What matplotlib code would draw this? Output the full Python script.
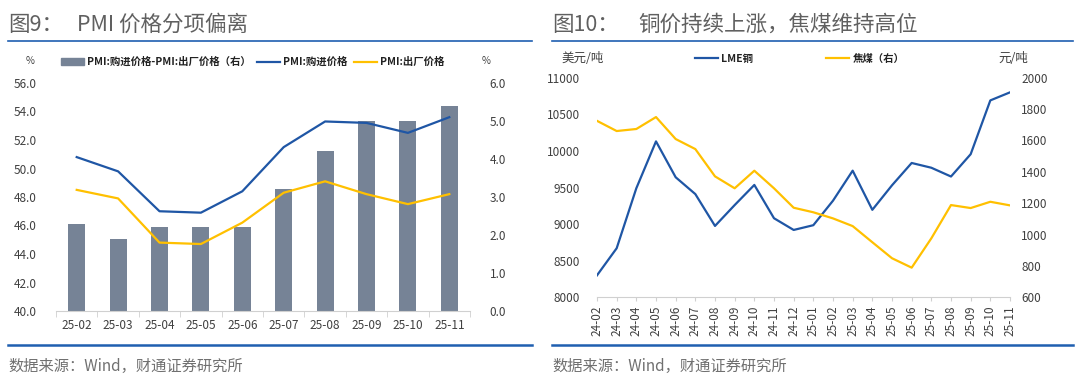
import matplotlib
matplotlib.use("Agg")
import matplotlib.pyplot as plt
from matplotlib.lines import Line2D
from matplotlib.patches import Patch

plt.rcParams['font.family'] = ['Noto Sans CJK SC', 'DejaVu Sans']

# ---- left chart data: PMI price sub-indices
pmi_months = ['25-02', '25-03', '25-04', '25-05', '25-06', '25-07', '25-08', '25-09', '25-10', '25-11']
pmi_input = [50.8, 49.8, 47.0, 46.9, 48.4, 51.5, 53.3, 53.2, 52.5, 53.6]
pmi_output = [48.5, 47.9, 44.8, 44.7, 46.2, 48.3, 49.1, 48.2, 47.5, 48.2]
pmi_gap = [2.3, 1.9, 2.2, 2.2, 2.2, 3.2, 4.2, 5.0, 5.0, 5.4]

# ---- right chart data: LME copper vs coking coal
cu_months = ['24-02', '24-03', '24-04', '24-05', '24-06', '24-07', '24-08', '24-09', '24-10', '24-11', '24-12',
             '25-01', '25-02', '25-03', '25-04', '25-05', '25-06', '25-07', '25-08', '25-09', '25-10', '25-11']
lme_copper = [8300, 8670, 9490, 10130, 9640, 9410, 8975, 9260, 9535, 9080, 8920,
              8985, 9320, 9730, 9195, 9530, 9835, 9770, 9650, 9955, 10690, 10800]
coking_coal = [1725, 1660, 1673, 1749, 1609, 1545, 1371, 1295, 1407, 1295, 1171,
               1142, 1103, 1054, 951, 849, 789, 976, 1188, 1169, 1209, 1186]

BLUE = '#1f56a5'
YELLOW = '#ffc000'
BAR = '#768396'
TXT = '#404040'
FRAME = '#1f5fb0'

fig = plt.figure(figsize=(10.8, 3.75), dpi=100)
W, H = 1080.0, 375.0

def fx(px):
    return px / W

def fy(py):
    return 1 - py / H

# titles, frame lines, source notes
fig.text(fx(8), fy(25), '图9：', fontsize=15.5, color='#606060', va='center', ha='left')
fig.text(fx(77), fy(25), 'PMI 价格分项偏离', fontsize=15.5, color='#606060', va='center', ha='left')
fig.text(fx(552), fy(25), '图10：', fontsize=15.5, color='#606060', va='center', ha='left')
fig.text(fx(638), fy(25), '铜价持续上涨，焦煤维持高位', fontsize=15.5, color='#606060', va='center', ha='left')
for x0, x1 in [(8, 532), (552, 1073)]:
    fig.add_artist(Line2D([fx(x0), fx(x1)], [fy(41), fy(41)], color=FRAME, lw=1.2))
    fig.add_artist(Line2D([fx(x0), fx(x1)], [fy(345), fy(345)], color=FRAME, lw=1.8))
    fig.text(fx(x0), fy(366), '数据来源：Wind，财通证券研究所', fontsize=11, color='#707070', va='center', ha='left')

# ---------------- left chart
axb = fig.add_axes([fx(56), fy(311), fx(470 - 56), (311 - 83) / H])
x = list(range(len(pmi_months)))
axb.bar(x, pmi_gap, width=0.41, color=BAR, zorder=1)
axb.set_ylim(0, 6)
axb.set_xlim(-0.5, len(pmi_months) - 0.5)

axl = axb.twinx()
axl.plot(x, pmi_input, color=BLUE, lw=1.6)
axl.plot(x, pmi_output, color=YELLOW, lw=1.6)
axl.set_ylim(40, 56)
axl.yaxis.tick_left()
axl.yaxis.set_label_position('left')
axl.set_yticks(range(40, 57, 2))
axl.set_yticklabels(['%.1f' % v for v in range(40, 57, 2)])

axb.yaxis.tick_right()
axb.set_yticks([0, 1, 2, 3, 4, 5, 6])
axb.set_yticklabels(['%.1f' % v for v in [0, 1, 2, 3, 4, 5, 6]])

axb.set_xticks(x)
axb.set_xticklabels(pmi_months)
axb.set_xticks([i - 0.5 for i in range(len(pmi_months) + 1)], minor=True)
axb.tick_params(axis='x', which='major', length=0, pad=6, labelsize=8.5, colors=TXT)
axb.tick_params(axis='x', which='minor', length=4, color='#d0d0d0')
axb.tick_params(axis='y', length=0, pad=14, labelsize=8.5, colors=TXT)
axl.tick_params(axis='y', length=0, pad=14, labelsize=8.5, colors=TXT)
for a in (axb, axl):
    for s in a.spines.values():
        s.set_visible(False)
axb.spines['bottom'].set_visible(True)
axb.spines['bottom'].set_color('#d0d0d0')

fig.text(fx(30), fy(61), '%', fontsize=7, color=TXT, ha='center', va='center')
fig.text(fx(486), fy(61), '%', fontsize=7, color=TXT, ha='center', va='center')

handles = [Patch(color=BAR), Line2D([], [], color=BLUE, lw=1.6), Line2D([], [], color=YELLOW, lw=1.6)]
labels = ['PMI:购进价格-PMI:出厂价格（右）', 'PMI:购进价格', 'PMI:出厂价格']
fig.legend(handles, labels, loc='center left', bbox_to_anchor=(fx(52), fy(62)), ncol=3, frameon=False,
           prop={'size': 7.5, 'weight': 'bold'}, handlelength=2.2, handletextpad=0.3, columnspacing=0.6,
           handleheight=0.6, labelcolor='#222222')

# ---------------- right chart
axc = fig.add_axes([fx(597), fy(297.3), fx(1010 - 597), (297.3 - 77.7) / H])
xc = list(range(len(cu_months)))
axc.plot(xc, lme_copper, color=BLUE, lw=1.6)
axc.set_ylim(8000, 11000)
axc.set_xlim(0, len(cu_months) - 1)
axc.set_xticks(xc)
axc.set_xticklabels(cu_months, rotation=90)

axk = axc.twinx()
axk.plot(xc, coking_coal, color=YELLOW, lw=1.6)
axk.set_ylim(600, 2000)
axk.set_yticks(range(600, 2001, 200))
axc.yaxis.tick_left()
axc.set_yticks(range(8000, 11001, 500))

axc.tick_params(axis='x', length=3, color='#d0d0d0', pad=3, labelsize=8.5, labelcolor=TXT)
axc.tick_params(axis='y', length=0, pad=12, labelsize=8.5, colors=TXT)
axk.tick_params(axis='y', length=0, pad=8, labelsize=8.5, colors=TXT)
for a in (axc, axk):
    for s in a.spines.values():
        s.set_visible(False)
axc.spines['bottom'].set_visible(True)
axc.spines['bottom'].set_color('#d0d0d0')

fig.text(fx(583), fy(59), '美元/吨', fontsize=9, color=TXT, ha='center', va='center')
fig.text(fx(1013), fy(59), '元/吨', fontsize=9, color=TXT, ha='center', va='center')

handles2 = [Line2D([], [], color=BLUE, lw=1.6), Line2D([], [], color=YELLOW, lw=1.6)]
fig.legend(handles2, ['LME铜', '焦煤（右）'], loc='center left', bbox_to_anchor=(fx(686), fy(59)), ncol=2,
           frameon=False, prop={'size': 7.5, 'weight': 'bold'}, handlelength=2.2, handletextpad=0.3,
           columnspacing=7.0, labelcolor='#222222')

fig.savefig('out.png', dpi=100)
